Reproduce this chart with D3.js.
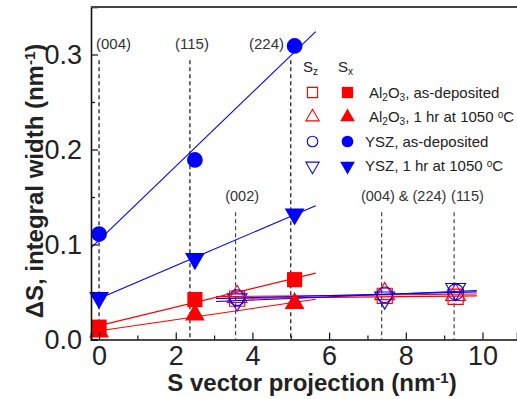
<!DOCTYPE html>
<html>
<head>
<meta charset="utf-8">
<script src="https://cdn.jsdelivr.net/npm/d3@7"></script>
<style>
  body { margin: 0; background: #fff; }
  svg { display: block; font-family: "Liberation Sans", Arial, sans-serif; }
</style>
</head>
<body>
<div id="chart"></div>
<script>
// Sx points (filled markers) and Sz points (open markers)
const sxX = [0, 2.5, 5.1];
const alDepSx = [0.013, 0.042, 0.063];
const alAnnSx = [0.008, 0.026, 0.038];
const yszDepSx = [0.111, 0.189, 0.309];
const yszAnnSx = [0.044, 0.085, 0.132];

const szX = [3.6, 7.45, 9.3];
const alDepSz = [0.043, 0.046, 0.045];
const alAnnSz = [0.045, 0.048, 0.047];
const yszDepSz = [0.044, 0.047, 0.050];
const yszAnnSz = [0.042, 0.044, 0.053];

// reflection markers
const topRefX = [0, 2.37, 5.0];
const topRefLabels = ["(004)", "(115)", "(224)"];
const topRefLabelX = [-0.08, 1.98, 3.91];
const lowRefX = [3.56, 7.37, 9.26];
const lowRefLabels = ["(002)", "(004) & (224)", "(115)"];
const lowRefLabelX = [3.29, 6.83, 9.18];

const xTicks = [0, 2, 4, 6, 8, 10];
const yTicks = [0, 0.1, 0.2, 0.3];

const width = 517, height = 399;
const RED = "#ff0000", BLUE = "#0000ff";

const x = d3.scaleLinear().domain([-0.21, 10.9]).range([91, 517]);
const y = d3.scaleLinear().domain([0, 0.35]).range([339.5, 7]);

const svg = d3.select("#chart").append("svg")
    .attr("width", width)
    .attr("height", height);

// least squares line through a series
const fit = (xs, ys) => {
    const n = xs.length;
    const mx = d3.mean(xs), my = d3.mean(ys);
    let sxy = 0, sxx = 0;
    for (let i = 0; i < n; i++) {
        sxy += (xs[i] - mx) * (ys[i] - my);
        sxx += (xs[i] - mx) ** 2;
    }
    const b = sxy / sxx;
    return t => my + b * (t - mx);
};

// dashed reflection lines
svg.append("g").selectAll("line")
    .data(topRefX)
    .enter().append("line")
    .attr("x1", d => x(d)).attr("x2", d => x(d))
    .attr("y1", y(0.294)).attr("y2", y(0))
    .attr("stroke", "#111")
    .attr("stroke-width", 1.2)
    .attr("stroke-dasharray", "4,3");

svg.append("g").selectAll("line")
    .data(lowRefX)
    .enter().append("line")
    .attr("x1", d => x(d)).attr("x2", d => x(d))
    .attr("y1", y(0.134)).attr("y2", y(0))
    .attr("stroke", "#444")
    .attr("stroke-width", 1.2)
    .attr("stroke-dasharray", "4,3");

svg.append("g").selectAll("text")
    .data(topRefLabels)
    .enter().append("text")
    .attr("x", (d, i) => x(topRefLabelX[i]))
    .attr("y", y(0.311))
    .attr("dy", "0.35em")
    .attr("font-size", "15px")
    .attr("fill", "#333")
    .text(d => d);

svg.append("g").selectAll("text")
    .data(lowRefLabels)
    .enter().append("text")
    .attr("x", (d, i) => x(lowRefLabelX[i]))
    .attr("y", y(0.151))
    .attr("dy", "0.35em")
    .attr("font-size", "14.5px")
    .attr("fill", "#333")
    .text(d => d);

// series definitions
const sxSeries = [
    { ys: alDepSx, color: RED, shape: "square", from: -0.21 },
    { ys: alAnnSx, color: RED, shape: "up", from: -0.21 },
    { ys: yszDepSx, color: BLUE, shape: "circle", from: -0.21 },
    { ys: yszAnnSx, color: BLUE, shape: "down", from: 0 }
];
const szSeries = [
    { ys: alDepSz, color: RED, shape: "square" },
    { ys: alAnnSz, color: RED, shape: "up" },
    { ys: yszDepSz, color: BLUE, shape: "circle" },
    { ys: yszAnnSz, color: BLUE, shape: "down" }
];

const symbolPath = (shape, scale) => {
    const sizes = { square: 230, up: 170, down: 170, circle: 195 };
    const types = { square: d3.symbolSquare, up: d3.symbolTriangle, down: d3.symbolTriangle, circle: d3.symbolCircle };
    return d3.symbol().type(types[shape]).size(sizes[shape] * scale)();
};
const symbolTransform = (shape, px, py) =>
    `translate(${px},${py})` + (shape === "down" ? " rotate(180)" : "");

// open Sz markers
szSeries.forEach(s => {
    svg.append("g").selectAll("path")
        .data(s.ys)
        .enter().append("path")
        .attr("d", symbolPath(s.shape, 1))
        .attr("transform", (d, i) => symbolTransform(s.shape, x(szX[i]), y(d)))
        .attr("fill", "none")
        .attr("stroke", s.color)
        .attr("stroke-width", 1.1);
});

// fit lines
const line = d3.line().x(d => x(d[0])).y(d => y(d[1]));
sxSeries.forEach(s => {
    const f = fit(sxX, s.ys);
    svg.append("path")
        .attr("d", line([[s.from, f(s.from)], [5.65, f(5.65)]]))
        .attr("stroke", s.color)
        .attr("stroke-width", 1.1)
        .attr("fill", "none");
});
szSeries.forEach(s => {
    const f = fit(szX, s.ys);
    svg.append("path")
        .attr("d", line([[3.05, f(3.05)], [9.85, f(9.85)]]))
        .attr("stroke", s.color)
        .attr("stroke-width", 1.1)
        .attr("fill", "none");
});

// filled Sx markers
sxSeries.forEach(s => {
    svg.append("g").selectAll("path")
        .data(s.ys)
        .enter().append("path")
        .attr("d", symbolPath(s.shape, 1))
        .attr("transform", (d, i) => symbolTransform(s.shape, x(sxX[i]), y(d)))
        .attr("fill", s.color);
});

// axes
svg.append("g")
    .attr("transform", `translate(0,${y(0)})`)
    .call(d3.axisBottom(x).tickValues(xTicks).tickSize(-7).tickPadding(6).tickFormat(d3.format("d")));
svg.append("g")
    .attr("transform", `translate(0,${y(0)})`)
    .call(d3.axisBottom(x).tickValues([1, 3, 5, 7, 9]).tickSize(-4).tickFormat(""))
    .call(g => g.select(".domain").remove());

svg.append("g")
    .attr("transform", `translate(${x.range()[0]},0)`)
    .call(d3.axisLeft(y).tickValues(yTicks).tickSize(-7).tickPadding(9).tickFormat(d3.format(".1f")));
svg.append("g")
    .attr("transform", `translate(${x.range()[0]},0)`)
    .call(d3.axisLeft(y).tickValues([0.05, 0.15, 0.25]).tickSize(-4).tickFormat(""))
    .call(g => g.select(".domain").remove());

svg.selectAll(".domain").attr("stroke", "#111").attr("stroke-width", 1.6);
svg.selectAll(".tick line").attr("stroke", "#111").attr("stroke-width", 1.2);
svg.selectAll(".tick text").attr("font-size", "27px").attr("fill", "#222").attr("font-family", "Liberation Sans, Arial, sans-serif");

// top frame
svg.append("line")
    .attr("x1", 91).attr("x2", width)
    .attr("y1", 7).attr("y2", 7)
    .attr("stroke", "#444")
    .attr("stroke-width", 1.8);

// axis titles
const xt = svg.append("text")
    .attr("x", 312).attr("y", 391)
    .attr("text-anchor", "middle")
    .attr("font-size", "24px").attr("font-weight", "bold").attr("fill", "#222");
xt.append("tspan").text("S vector projection (nm");
xt.append("tspan").attr("font-size", "15px").attr("baseline-shift", "55%").text("-1");
xt.append("tspan").text(")");

const yt = svg.append("text")
    .attr("transform", "translate(43,181) rotate(-90)")
    .attr("text-anchor", "middle")
    .attr("font-size", "24px").attr("font-weight", "bold").attr("fill", "#222");
yt.append("tspan").text("\u0394S, integral width (nm");
yt.append("tspan").attr("font-size", "15px").attr("baseline-shift", "55%").text("-1");
yt.append("tspan").text(")");

// legend
const legend = svg.append("g").attr("fill", "#222").attr("font-size", "15px");
const hdr = (tx, sub) => {
    const t = legend.append("text").attr("x", tx).attr("y", 72);
    t.append("tspan").text("S");
    t.append("tspan").attr("font-size", "10px").attr("baseline-shift", "-30%").text(sub);
};
hdr(303, "z");
hdr(338, "x");

const rowY = [92.5, 117, 141.5, 166];
const shapes = ["square", "up", "circle", "down"];
const colors = [RED, RED, BLUE, BLUE];
rowY.forEach((ry, i) => {
    legend.append("path")
        .attr("d", symbolPath(shapes[i], 0.45))
        .attr("transform", symbolTransform(shapes[i], 312.5, ry))
        .attr("fill", "none").attr("stroke", colors[i]).attr("stroke-width", 1.1);
    legend.append("path")
        .attr("d", symbolPath(shapes[i], 0.55))
        .attr("transform", symbolTransform(shapes[i], 347.5, ry))
        .attr("fill", colors[i]);
});

const addRow = (i, parts) => {
    const t = legend.append("text").attr("x", i < 2 ? 369 : 365).attr("y", rowY[i]).attr("dy", "0.35em");
    parts.forEach(p => {
        const s = t.append("tspan").text(p[0]);
        if (p[1] === "sub") s.attr("font-size", "10px").attr("baseline-shift", "-30%");
        if (p[1] === "sup") s.attr("font-size", "10px").attr("baseline-shift", "45%");
    });
};
addRow(0, [["Al"], ["2", "sub"], ["O"], ["3", "sub"], [", as-deposited"]]);
addRow(1, [["Al"], ["2", "sub"], ["O"], ["3", "sub"], [", 1 hr at 1050 "], ["o", "sup"], ["C"]]);
addRow(2, [["YSZ, as-deposited"]]);
addRow(3, [["YSZ, 1 hr at 1050 "], ["o", "sup"], ["C"]]);
</script>
</body>
</html>
